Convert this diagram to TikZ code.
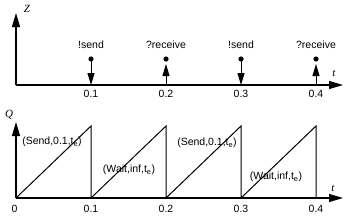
\documentclass[tikz,border=0pt]{standalone}
\usepackage{fontspec}
\setmainfont{Liberation Sans}
\newfontfamily\serifit{Liberation Serif}[ItalicFont=* Italic]
\usetikzlibrary{arrows.meta}
\begin{document}
\begin{tikzpicture}[x=1pt,y=-1pt,
  axis/.style={line width=1.1pt,-{Triangle[length=14pt,width=8pt]}},
  marksend/.style={line width=1pt,-{Triangle[length=12pt,width=7pt]}},
  lbl/.style={font=\fontsize{10.5}{12}\selectfont,inner sep=0pt},
  axlbl/.style={font=\fontsize{11}{13}\selectfont\serifit\itshape,inner sep=0pt},
  saw/.style={line width=1pt},
  dotc/.style={fill=black}]
\useasboundingbox (0,0) rectangle (350,217);
% top axes
\coordinate (O1) at (16,85);
\coordinate (Ztip) at (16,13);
\coordinate (T1tip) at (343,85);
\draw[axis] (O1) -- (Ztip);
\draw[axis] (O1) -- (T1tip);
\node[axlbl] (Zl) at (27,9) {Z};
\node[axlbl] (t1l) at (334,73) {t};
% markers
\foreach \k/\lab/\typ in {1/!send/s,2/?receive/r,3/!send/s,4/?receive/r}{
  \pgfmathsetmacro{\xx}{16+75*\k}
  \coordinate (d\k) at (\xx,59);
  \coordinate (a\k) at (\xx,85);
  \coordinate (r\k) at (\xx,64);
  \fill[dotc] (d\k) circle (2.6pt);
  \if s\typ \draw[marksend] (d\k) -- (a\k); \else \draw[marksend] (a\k) -- (r\k); \fi
  \node[lbl] (top\k) at (\xx,45) {\lab};
  \node[lbl] (tk\k) at (\xx,94) {0.\k};
}
% bottom axes
\coordinate (O2) at (16,198);
\coordinate (Qtip) at (16,122);
\coordinate (T2tip) at (343,198);
\draw[axis] (O2) -- (Qtip);
\draw[axis] (O2) -- (T2tip);
\node[axlbl] (Ql) at (9,115) {Q};
\node[axlbl] (t2l) at (333,188) {t};
\node[lbl] (b0) at (14.5,208.5) {0};
\foreach \k in {1,2,3,4}{
  \pgfmathsetmacro{\xx}{16+75*\k}
  \coordinate (p\k) at (\xx,126);
  \coordinate (q\k) at (\xx,198);
  \node[lbl] (bk\k) at (\xx,208.5) {0.\k};
}
\draw[saw] (O2) -- (p1) -- (q1) -- (p2) -- (q2) -- (p3) -- (q3) -- (p4) -- (q4);
\node[lbl] (s1) at (52,142) {(Send,0.1,t\textsubscript{e})};
\node[lbl] (w1) at (129,170) {(Wait,inf,t\textsubscript{e})};
\node[lbl] (s2) at (207,143) {(Send,0.1,t\textsubscript{e})};
\node[lbl] (w2) at (276,177) {(Wait,inf,t\textsubscript{e})};
\end{tikzpicture}
\end{document}
